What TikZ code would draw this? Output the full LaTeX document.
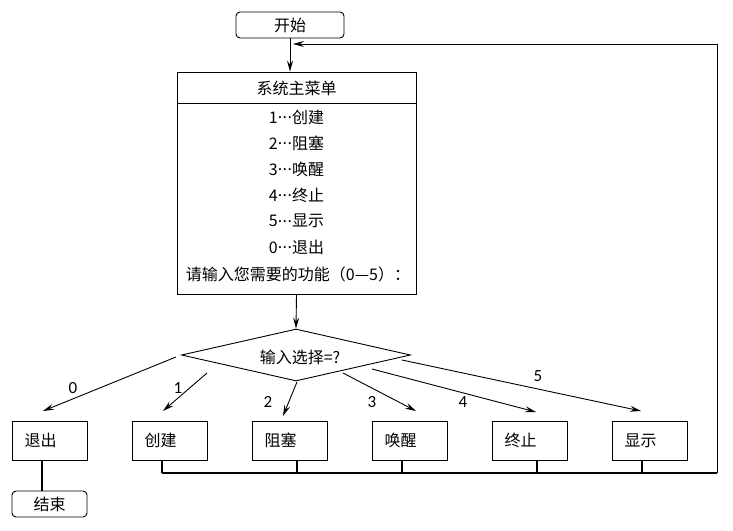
\documentclass[tikz,border=0pt]{standalone}
\usepackage{fontspec}
\newfontfamily\cjk{Noto Sans CJK SC}
\newfontfamily\lab{Carlito}
\usetikzlibrary{arrows.meta,shapes.geometric}
\newcommand{\dts}{\raisebox{0.28em}{.\kern0.5pt.\kern0.5pt.}}
\begin{document}
\begin{tikzpicture}[x=1pt,y=-1pt,line width=0.9pt,
  every node/.style={font=\cjk\fontsize{16}{18}\selectfont},
  term/.style={draw,rounded corners=4pt,minimum width=108pt,minimum height=26pt,inner sep=0pt},
  endbox/.style={draw,rounded corners=4pt,minimum width=75pt,minimum height=26pt,inner sep=0pt},
  box/.style={draw,minimum height=39pt,text width=50pt,inner xsep=12.5pt,inner ysep=0pt,align=left},
  txt/.style={inner sep=0pt},
  num/.style={inner sep=0pt,font=\lab\fontsize{17}{19}\selectfont},
  arr/.style={-{Stealth[length=11pt,width=6pt,inset=4pt]}},
  stem/.style={line width=1.6pt},
  bus/.style={line width=2pt}]
\useasboundingbox (0,0) rectangle (733,530);

% start
\node[term] (start) at (290,25) {开始};

% menu
\node[draw,minimum width=239pt,minimum height=222pt,inner sep=0pt] (menu) at (296.5,183) {};
\draw ([yshift=-32pt]menu.north west) -- ([yshift=-32pt]menu.north east);
\node[txt] (t0) at (296.5,88) {系统主菜单};
\node[txt] (t1) at (296.5,117) {1\dts 创建};
\node[txt] (t2) at (296.5,143) {2\dts 阻塞};
\node[txt] (t3) at (296.5,169) {3\dts 唤醒};
\node[txt] (t4) at (296.5,195) {4\dts 终止};
\node[txt] (t5) at (296.5,221) {5\dts 显示};
\node[txt] (t6) at (296.5,247) {0\dts 退出};
\node[txt] (t7) at (298,274) {请输入您需要的功能（0—5）：};

% decision
\node[draw,diamond,aspect=4.4,minimum width=229pt,minimum height=52pt,inner sep=0pt] (dia) at (296,355) {};
\node[txt] (dt) at (300,357) {输入选择=?};

\draw[arr] (start.south) -- (start.south |- menu.north);
\draw[arr] (menu.south) -- (dia.north);

% boxes
\node[box] (b0) at (49.5,440.5) {退出};
\node[box] (b1) at (169.5,440.5) {创建};
\node[box] (b2) at (289.5,440.5) {阻塞};
\node[box] (b3) at (409.5,440.5) {唤醒};
\node[box] (b4) at (529.5,440.5) {终止};
\node[box] (b5) at (649.5,440.5) {显示};
\node[endbox] (end) at (49.5,504) {结束};

% branch arrows
\coordinate (s0) at (176,357); \coordinate (e0) at (43,411);
\coordinate (s1) at (207,373); \coordinate (e1) at (163,411);
\coordinate (s2) at (297,382); \coordinate (e2) at (283,416);
\coordinate (s3) at (343,373); \coordinate (e3) at (416,411);
\coordinate (s4) at (372,369); \coordinate (e4) at (536,412);
\coordinate (s5) at (402,360); \coordinate (e5) at (641,411);
\draw[arr] (s0) -- (e0);
\draw[arr] (s1) -- (e1);
\draw[arr] (s2) -- (e2);
\draw[arr] (s3) -- (e3);
\draw[arr] (s4) -- (e4);
\draw[arr] (s5) -- (e5);
\node[num] (n0) at (73,388) {0};
\node[num] (n1) at (178,388) {1};
\node[num] (n2) at (268,402) {2};
\node[num] (n3) at (372,402) {3};
\node[num] (n4) at (463,402) {4};
\node[num] (n5) at (538,376) {5};

% bus
\coordinate (busL) at (162,473);
\coordinate (busR) at (717,473);
\coordinate (ret) at (717,44);
\coordinate (retEnd) at (293,44);
\draw[bus] (busL) -- (busR);
\draw[stem] ([xshift=-7.5pt]b1.south) -- ([xshift=-7.5pt]b1.south |- busL);
\draw[stem] ([xshift=7.5pt]b2.south) -- ([xshift=7.5pt]b2.south |- busL);
\draw[stem] ([xshift=-7.5pt]b3.south) -- ([xshift=-7.5pt]b3.south |- busL);
\draw[stem] ([xshift=7.5pt]b4.south) -- ([xshift=7.5pt]b4.south |- busL);
\draw[stem] ([xshift=-7.5pt]b5.south) -- ([xshift=-7.5pt]b5.south |- busL);
\draw[arr] (busR) -- (ret) -- (retEnd);
\draw[stem] ([xshift=-7.5pt]b0.south) -- ([xshift=-7.5pt]b0.south |- end.north);
\end{tikzpicture}
\end{document}
